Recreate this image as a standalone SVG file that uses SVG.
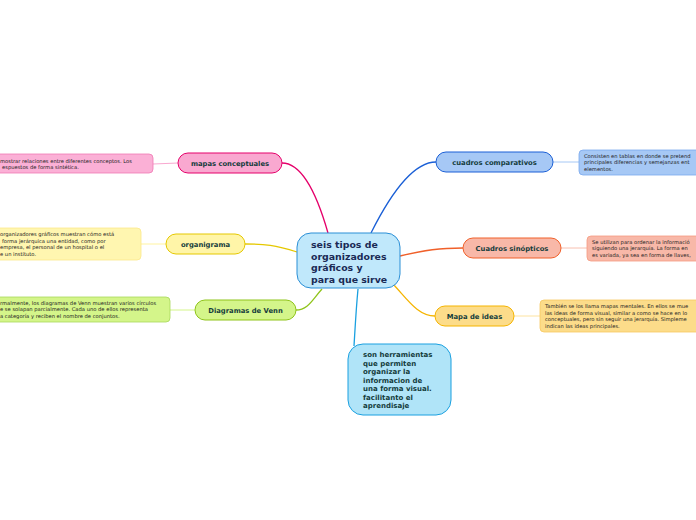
<svg xmlns="http://www.w3.org/2000/svg" width="696" height="520" viewBox="0 0 696 520">
<style>
.lbl{font-family:"DejaVu Sans",Verdana,sans-serif;font-weight:bold;fill:#143c3c;font-size:6.8px;text-anchor:middle}
.note{font-family:"DejaVu Sans",Verdana,sans-serif;fill:#222;font-size:5.2px}
.main{font-family:"DejaVu Sans",Verdana,sans-serif;font-weight:bold;fill:#1a2a55;font-size:9.4px}
.sub{font-family:"DejaVu Sans",Verdana,sans-serif;font-weight:bold;fill:#143c3c;font-size:7px}
.c{fill:none;stroke-width:1.3}
.n{fill:none;stroke-width:1}
</style>
<rect width="696" height="520" fill="#ffffff"/>
<g id="connectors">
<path class="c" stroke="#e5006a" d="M328,233 C320,205 305,163 282,163"/>
<path class="c" stroke="#1a5fd6" d="M371,233 C385,205 410,162 436,162"/>
<path class="c" stroke="#e5c800" d="M297,252 C275,245 265,244 245,244"/>
<path class="c" stroke="#8fc41a" d="M322,289 C312,300 308,310 296,310"/>
<path class="c" stroke="#f0602a" d="M400,256 C425,250 440,248 463,248"/>
<path class="c" stroke="#f5b400" d="M393,284 C408,300 418,316 435,316"/>
<path class="c" stroke="#1aa0e0" d="M358,289 C356,310 355,330 354,346"/>
<path class="n" stroke="#f9a8d0" d="M178,163 L153,164"/>
<path class="n" stroke="#fff3a0" d="M166,244 L141,244"/>
<path class="n" stroke="#d4f58a" d="M195,310 L170,310"/>
<path class="n" stroke="#a6c8f5" d="M553,162 L579,162"/>
<path class="n" stroke="#f8c0b0" d="M561,248 L587,248"/>
<path class="n" stroke="#fde3a0" d="M514,316 L540,316"/>
</g>
<g id="central">
<rect x="297" y="233" width="103" height="55" rx="14" fill="#c0e8fb" stroke="#2a8fd6" stroke-width="1"/>
<text class="main" x="311" y="248">seis tipos de</text>
<text class="main" x="311" y="259.5">organizadores</text>
<text class="main" x="311" y="271">gráficos y</text>
<text class="main" x="311" y="282.5">para que sirve</text>
</g>
<g id="mapas-conceptuales">
<rect x="178" y="153" width="104" height="20" rx="10" fill="#f9a8d0" stroke="#e5006a" stroke-width="1"/>
<text class="lbl" x="230" y="165.5">mapas conceptuales</text>
</g>
<g id="note-mapas">
<rect x="-10" y="154" width="163" height="19" rx="4" fill="#fbb0d6" stroke="#f07ab4" stroke-width="0.8"/>
<text class="note" x="0" y="162.5">mostrar relaciones entre diferentes conceptos. Los</text>
<text class="note" x="2" y="169">espuestos de forma sintética.</text>
</g>
<g id="organigrama">
<rect x="166" y="234" width="79" height="20" rx="10" fill="#fff5a8" stroke="#e5c800" stroke-width="1"/>
<text class="lbl" x="205.5" y="246.5">organigrama</text>
</g>
<g id="note-organigrama">
<rect x="-10" y="228" width="151" height="32" rx="4" fill="#fff6b0" stroke="#fbe98a" stroke-width="0.8"/>
<text class="note" x="0" y="236">organizadores gráficos muestran cómo está</text>
<text class="note" x="2" y="242.5">forma jerárquica una entidad, como por</text>
<text class="note" x="0" y="249">empresa, el personal de un hospital o el</text>
<text class="note" x="0" y="255.5">e un instituto.</text>
</g>
<g id="venn">
<rect x="195" y="300" width="101" height="20" rx="10" fill="#d4f58a" stroke="#8fc41a" stroke-width="1"/>
<text class="lbl" x="245.5" y="312.5">Diagramas de Venn</text>
</g>
<g id="note-venn">
<rect x="-10" y="297" width="180" height="25" rx="4" fill="#d4f58a" stroke="#a8d85a" stroke-width="0.8"/>
<text class="note" x="0" y="304.5">rmalmente, los diagramas de Venn muestran varios círculos</text>
<text class="note" x="0" y="311">e se solapan parcialmente. Cada uno de ellos representa</text>
<text class="note" x="0" y="317.5">a categoría y reciben el nombre de conjuntos.</text>
</g>
<g id="cuadros-comparativos">
<rect x="436" y="152" width="117" height="20" rx="10" fill="#a6c8f5" stroke="#1a5fd6" stroke-width="1"/>
<text class="lbl" x="494.5" y="164.5">cuadros comparativos</text>
</g>
<g id="note-comparativos">
<rect x="579" y="150" width="130" height="25" rx="4" fill="#a6c8f5" stroke="#7aa8ee" stroke-width="0.8"/>
<text class="note" x="584" y="157.5">Consisten en tablas en donde se pretend</text>
<text class="note" x="584" y="164">principales diferencias y semejanzas ent</text>
<text class="note" x="584" y="170.5">elementos.</text>
</g>
<g id="cuadros-sinopticos">
<rect x="463" y="238" width="98" height="20" rx="10" fill="#f8b8a8" stroke="#f0602a" stroke-width="1"/>
<text class="lbl" x="512" y="250.5">Cuadros sinópticos</text>
</g>
<g id="note-sinopticos">
<rect x="587" y="236" width="120" height="25" rx="4" fill="#f8b8a8" stroke="#f59a80" stroke-width="0.8"/>
<text class="note" x="592" y="243.5">Se utilizan para ordenar la informació</text>
<text class="note" x="592" y="250">siguiendo una jerarquía. La forma en</text>
<text class="note" x="592" y="256.5">es variada, ya sea en forma de llaves,</text>
</g>
<g id="mapa-ideas">
<rect x="435" y="306" width="79" height="20" rx="10" fill="#fcdc8a" stroke="#f5b400" stroke-width="1"/>
<text class="lbl" x="474.5" y="318.5">Mapa de ideas</text>
</g>
<g id="note-ideas">
<rect x="540" y="300" width="170" height="32" rx="4" fill="#fcdc8a" stroke="#f8c860" stroke-width="0.8"/>
<text class="note" x="545" y="308">También se los llama mapas mentales. En ellos se mue</text>
<text class="note" x="545" y="314.5">las ideas de forma visual, similar a como se hace en lo</text>
<text class="note" x="545" y="321">conceptuales, pero sin seguir una jerarquía. Simpleme</text>
<text class="note" x="545" y="327.5">indican las ideas principales.</text>
</g>
<g id="herramientas">
<rect x="348" y="344" width="103" height="71" rx="15" fill="#b0e4f8" stroke="#1aa0e0" stroke-width="1"/>
<text class="sub" x="363" y="357">son herramientas</text>
<text class="sub" x="363" y="365.5">que permiten</text>
<text class="sub" x="363" y="374">organizar la</text>
<text class="sub" x="363" y="382.5">informacion de</text>
<text class="sub" x="363" y="391">una forma visual.</text>
<text class="sub" x="363" y="399.5">facilitanto el</text>
<text class="sub" x="363" y="408">aprendisaje</text>
</g>
</svg>
